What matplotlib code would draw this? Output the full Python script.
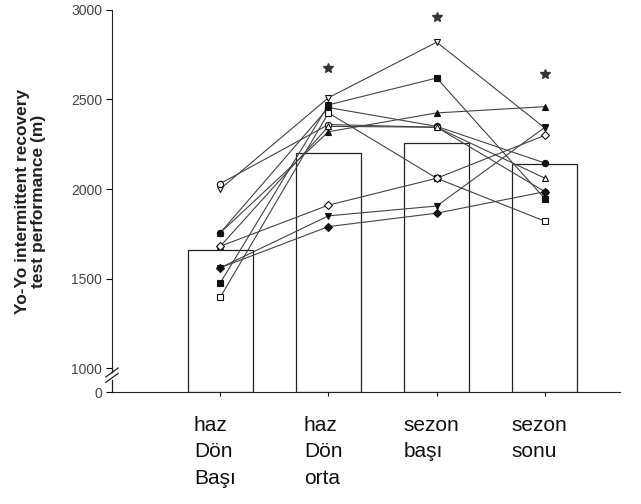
import matplotlib.pyplot as plt
import matplotlib.transforms as mtransforms
import numpy as np

plt.rcParams['font.family'] = ['Liberation Sans', 'DejaVu Sans']

# data
groups = ['haz\nDön\nBaşı', 'haz\nDön\norta', 'sezon\nbaşı', 'sezon\nsonu']
bar_means = [1660, 2200, 2255, 2140]
star_y = [np.nan, 2675, 2960, 2640]

# individual players: (marker, filled, values)
players = [
    ('v', False, [2000, 2510, 2820, 2340]),
    ('s', True,  [1475, 2470, 2620, 1945]),
    ('o', True,  [1755, 2455, 2350, 2145]),
    ('s', False, [1395, 2425, 2060, 1820]),
    ('o', False, [2030, 2360, 2345, 1985]),
    ('^', True,  [1755, 2320, 2425, 2460]),
    ('^', False, [1680, 2350, 2345, 2060]),
    ('D', False, [1680, 1910, 2060, 2300]),
    ('v', True,  [1560, 1850, 1905, 2345]),
    ('D', True,  [1560, 1790, 1865, 1985]),
]

zero_pos = 866   # where "0" sits below the axis break

fig = plt.figure(figsize=(6.41, 5.04), dpi=100)
ax = fig.add_axes([0.1747, 0.2222, 0.792, 0.758])

x = np.arange(1, len(groups) + 1)
ax.bar(x, np.array(bar_means) - zero_pos, bottom=zero_pos, width=0.6,
       color='white', edgecolor='#222222', linewidth=0.9, zorder=1)

for m, filled, vals in players:
    ax.plot(x, vals, color='#444444', lw=0.8, zorder=2)
    ax.plot(x, vals, linestyle='none', marker=m, markersize=4.5,
            markerfacecolor='#111111' if filled else 'white',
            markeredgecolor='#111111', markeredgewidth=0.8, zorder=3)

ax.plot(x, star_y, linestyle='none', marker='*', markersize=7,
        color='#333333', zorder=3)

ax.set_xlim(0, 4.69)
ax.set_ylim(zero_pos, 3000)

for s in ['top', 'right']:
    ax.spines[s].set_visible(False)
ax.spines['left'].set_bounds(1000, 3000)
ax.spines['left'].set_color('#222222')
ax.spines['bottom'].set_color('#222222')

# broken y axis
yt = ax.get_yaxis_transform()
ax.plot([0, 0], [zero_pos, 935], color='#222222', lw=0.9, transform=yt, clip_on=False)
ax.plot([0, 0], [1000, 975], color='#222222', lw=0.9, transform=yt, clip_on=False)
for y0 in [945, 975]:
    ax.plot([-0.012, 0.012], [y0 - 25, y0 + 25], color='#222222', lw=0.9,
            transform=yt, clip_on=False)

ax.set_yticks([zero_pos, 1000, 1500, 2000, 2500, 3000])
ax.set_yticklabels(['0', '1000', '1500', '2000', '2500', '3000'])
ax.tick_params(axis='y', length=4, width=0.8, labelsize=10, labelcolor='#444444', pad=3)
ax.set_xticks(x)
ax.set_xticklabels([])
ax.tick_params(axis='x', length=3, width=0.8)

ax.set_ylabel('Yo-Yo intermittent recovery\ntest performance (m)',
              fontsize=12.5, fontweight='bold', color='#222222', labelpad=18,
              linespacing=1.1)

trans = mtransforms.blended_transform_factory(ax.transData, ax.transAxes)
for xi, lab in zip(x, groups):
    ax.text(xi - 0.05, -0.062, lab, transform=trans, ha='center', va='top',
            multialignment='left', fontsize=15, linespacing=1.5, color='#111111')

fig.savefig('out.png', dpi=100)
